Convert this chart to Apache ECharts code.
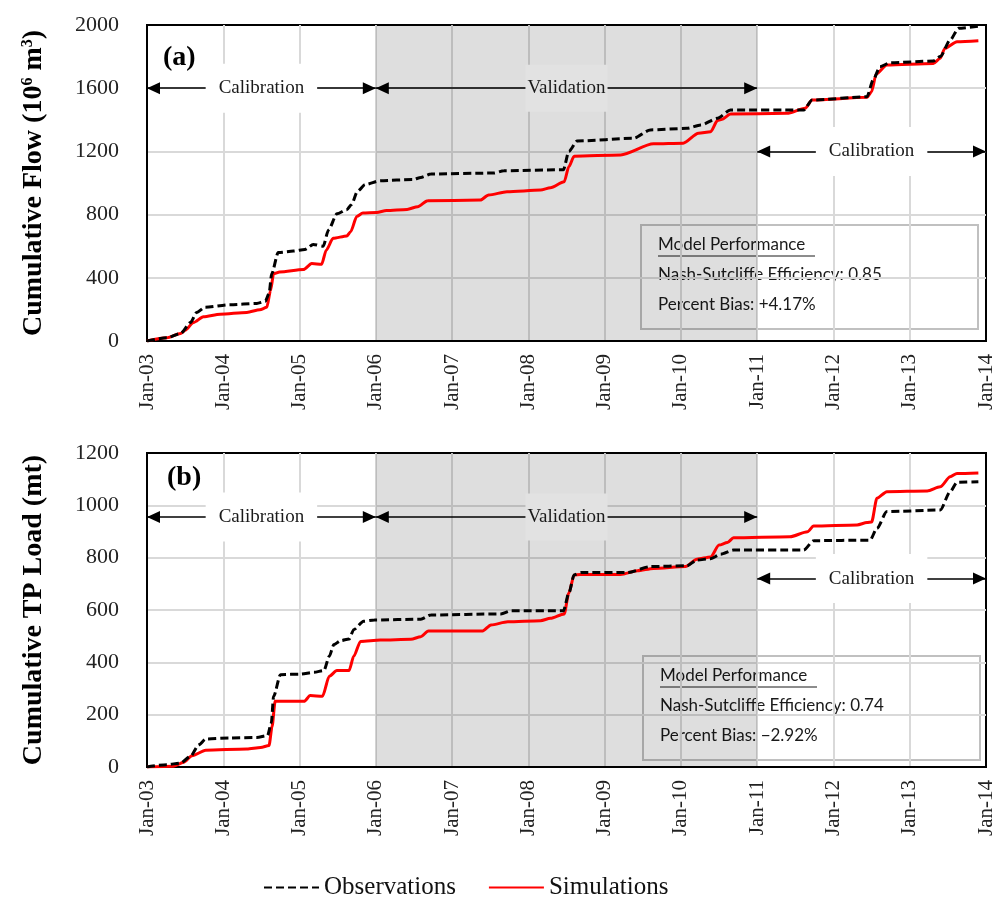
<!DOCTYPE html>
<html>
<head>
<meta charset="utf-8">
<script src="https://cdn.jsdelivr.net/npm/echarts@6/dist/echarts.min.js"></script>
<style>html,body{margin:0;padding:0;background:#fff}#c{width:997px;height:900px}</style>
</head>
<body>
<div id="c"></div>
<script>
// ---- tick labels ----
const xTickLabels = ['Jan-03','Jan-04','Jan-05','Jan-06','Jan-07','Jan-08','Jan-09','Jan-10','Jan-11','Jan-12','Jan-13','Jan-14'];
const xStartYear = 2003;
const flowTicks = [0, 400, 800, 1200, 1600, 2000];
const loadTicks = [0, 200, 400, 600, 800, 1000, 1200];

// ---- periods ----
const calibration1 = [2003, 2006];
const validation = [2006, 2011];
const calibration2 = [2011, 2014];
const flowArrowY = [1600, 1600, 1200];
const loadArrowY = [955, 955, 720];

// ---- (a) cumulative flow, 10^6 m3, [decimal year, value] ----
const flowObs = [[2003.00,0],[2003.26,20],[2003.44,47],[2003.57,117],[2003.65,180],[2003.76,213],[2004.09,230],[2004.44,238],[2004.55,251],[2004.60,300],[2004.635,426],[2004.72,560],[2004.92,569],[2005.07,579],[2005.18,611],[2005.31,600],[2005.38,703],[2005.49,805],[2005.62,831],[2005.68,863],[2005.76,948],[2005.86,990],[2006.06,1015],[2006.49,1022],[2006.59,1035],[2006.72,1057],[2007.55,1063],[2007.68,1078],[2008.46,1084],[2008.53,1200],[2008.64,1266],[2009.38,1283],[2009.60,1336],[2010.08,1346],[2010.26,1367],[2010.48,1410],[2010.65,1462],[2011.61,1462],[2011.72,1525],[2012.44,1546],[2012.52,1652],[2012.61,1736],[2012.74,1761],[2013.31,1772],[2013.40,1800],[2013.53,1905],[2013.64,1979],[2013.90,1993]];
const flowSim = [[2003.00,0],[2003.26,20],[2003.44,47],[2003.50,68],[2003.61,117],[2003.74,153],[2003.96,170],[2004.31,181],[2004.48,198],[2004.57,213],[2004.62,320],[2004.66,426],[2004.74,437],[2005.05,452],[2005.16,490],[2005.29,486],[2005.35,575],[2005.44,650],[2005.62,665],[2005.67,692],[2005.75,788],[2005.83,810],[2006.01,814],[2006.14,826],[2006.41,833],[2006.55,850],[2006.68,888],[2007.37,892],[2007.48,924],[2007.72,945],[2008.16,955],[2008.29,970],[2008.47,1008],[2008.53,1103],[2008.60,1170],[2009.21,1178],[2009.64,1248],[2010.03,1252],[2010.23,1315],[2010.39,1325],[2010.48,1395],[2010.54,1404],[2010.65,1437],[2011.39,1441],[2011.63,1473],[2011.72,1525],[2012.44,1542],[2012.50,1578],[2012.56,1690],[2012.70,1747],[2013.31,1757],[2013.40,1789],[2013.46,1852],[2013.62,1894],[2013.90,1900]];

// ---- (b) cumulative TP load, mt ----
const loadObs = [[2003.00,0],[2003.26,9],[2003.44,15],[2003.57,41],[2003.68,85],[2003.77,107],[2004.09,111],[2004.44,113],[2004.58,120],[2004.63,168],[2004.66,270],[2004.75,353],[2005.01,355],[2005.19,362],[2005.32,369],[2005.39,423],[2005.45,468],[2005.54,483],[2005.65,489],[2005.71,525],[2005.84,557],[2005.98,562],[2006.59,565],[2006.72,581],[2007.64,585],[2007.77,597],[2008.46,597],[2008.53,664],[2008.60,734],[2008.69,743],[2009.30,743],[2009.60,766],[2010.08,769],[2010.21,791],[2010.39,796],[2010.52,813],[2010.69,829],[2011.61,829],[2011.74,865],[2012.48,867],[2012.57,912],[2012.70,976],[2013.40,982],[2013.53,1052],[2013.62,1088],[2013.90,1090]];
const loadSim = [[2003.00,0],[2003.35,3],[2003.48,18],[2003.59,43],[2003.77,64],[2004.31,69],[2004.49,75],[2004.60,82],[2004.64,155],[2004.68,251],[2005.06,251],[2005.14,273],[2005.30,270],[2005.39,347],[2005.49,369],[2005.65,369],[2005.71,423],[2005.80,480],[2006.06,485],[2006.46,488],[2006.59,498],[2006.69,520],[2007.40,520],[2007.51,543],[2007.73,555],[2008.16,559],[2008.29,568],[2008.47,585],[2008.53,664],[2008.60,734],[2008.68,736],[2009.21,736],[2009.43,750],[2009.64,759],[2010.06,766],[2010.21,794],[2010.39,803],[2010.50,848],[2010.61,858],[2010.69,876],[2011.43,880],[2011.66,899],[2011.74,921],[2012.31,925],[2012.44,934],[2012.50,936],[2012.57,1027],[2012.70,1052],[2013.23,1055],[2013.40,1071],[2013.53,1109],[2013.62,1122],[2013.90,1124]];

const perfA = ['Model Performance', 'Nash-Sutcliffe Efficiency: 0.85', 'Percent Bias: +4.17%'];
const perfB = ['Model Performance', 'Nash-Sutcliffe Efficiency: 0.74', 'Percent Bias: \u22122.92%'];

const SERIF = '"Liberation Serif", "Times New Roman", serif';
const SANS = 'Lato, "Open Sans", sans-serif';
const GRID_C = '#d9d9d9';
// triangle whose tip sits at the symbol centre (lower half filled, upper half empty)
const ARROW_HEAD = 'path://M6,13 L12,26 L0,26 Z M6,0 L6,0.05';

function xAxis(gi) {
  return {
    type: 'value', gridIndex: gi, min: xStartYear, max: xStartYear + xTickLabels.length - 1, interval: 1,
    axisLine: { show: true, onZero: false, lineStyle: { color: '#000', width: 2 } },
    axisTick: { show: false },
    axisLabel: { rotate: 90, margin: 13, fontFamily: SERIF, fontSize: 21, color: '#222',
      formatter: v => xTickLabels[Math.round(v - xStartYear)] },
    splitLine: { show: true, showMinLine: false, showMaxLine: false, lineStyle: { color: GRID_C, width: 2 } }
  };
}
function yAxis(gi, ticks, name) {
  return {
    type: 'value', gridIndex: gi, min: ticks[0], max: ticks[ticks.length - 1], interval: ticks[1] - ticks[0],
    name: name, nameLocation: 'middle', nameGap: 99,
    nameTextStyle: { fontFamily: SERIF, fontSize: 28, fontWeight: 'bold', color: '#000',
      rich: { sup: { fontFamily: SERIF, fontSize: 16, fontWeight: 'bold', verticalAlign: 'top', padding: [0, 0, 11, 0] } } },
    axisLine: { show: true, lineStyle: { color: '#000', width: 2 } },
    axisTick: { show: false },
    axisLabel: { margin: 28, fontFamily: SERIF, fontSize: 22, color: '#222', formatter: v => String(v) },
    splitLine: { show: true, showMinLine: false, showMaxLine: false, lineStyle: { color: GRID_C, width: 2 } }
  };
}
function arrowSeries(gi, ys, name) {
  const periods = [calibration1, validation, calibration2];
  const texts = ['Calibration', 'Validation', 'Calibration'];
  return {
    name: name, type: 'scatter', xAxisIndex: gi, yAxisIndex: gi, z: 5, silent: true,
    symbolSize: 0, itemStyle: { opacity: 1 },
    data: periods.map((p, i) => ({
      value: [(p[0] + p[1]) / 2, ys[i]],
      label: {
        show: true, position: 'inside', formatter: texts[i], fontFamily: SERIF, fontSize: 19, color: '#1a1a1a',
        backgroundColor: i === 1 ? '#e2e2e2' : '#fff', padding: i === 1 ? [14, 2] : [15, 13]
      }
    })),
    markLine: {
      silent: true, symbol: [ARROW_HEAD, ARROW_HEAD], symbolSize: [12, 26],
      label: { show: false }, emphasis: { disabled: true },
      lineStyle: { color: '#000', width: 1.5, type: 'solid' },
      data: periods.map((p, i) => [{ coord: [p[0], ys[i]] }, { coord: [p[1], ys[i]] }])
    }
  };
}
function lineSeries(gi, name, data, isObs, withArea) {
  const s = {
    name: name, type: 'line', xAxisIndex: gi, yAxisIndex: gi, data: data,
    showSymbol: false, symbol: 'none', smooth: 0.25, smoothMonotone: 'x', z: isObs ? 4 : 3,
    lineStyle: isObs ? { color: '#000', width: 3, type: [8, 4] } : { color: '#ff0000', width: 3 },
    itemStyle: { color: isObs ? '#000' : '#ff0000', opacity: 0 }
  };
  if (withArea) {
    s.markArea = { silent: true, itemStyle: { color: 'rgba(0,0,0,0.13)', opacity: 1 },
      data: [[{ xAxis: validation[0] }, { xAxis: validation[1] }]] };
  }
  return s;
}
function perfBox(left, top, lines) {
  return {
    type: 'group', left: left, top: top, z: 100,
    children: [
      { type: 'rect', shape: { x: 0, y: 0, width: 337, height: 104 }, style: { fill: '#fff', stroke: '#c0c0c0', lineWidth: 2 } },
      { type: 'text', x: 17, y: 11, style: { text: lines[0], font: '17px ' + SANS, fill: '#1a1a1a' } },
      { type: 'line', shape: { x1: 17, y1: 31, x2: 174, y2: 31 }, style: { stroke: '#1a1a1a', lineWidth: 1 } },
      { type: 'text', x: 17, y: 41, style: { text: lines[1], font: '17px ' + SANS, fill: '#1a1a1a' } },
      { type: 'text', x: 17, y: 71, style: { text: lines[2], font: '17px ' + SANS, fill: '#1a1a1a' } }
    ]
  };
}

const chart = echarts.init(document.getElementById('c'), null, { renderer: 'canvas' });
chart.setOption({
  animation: false,
  backgroundColor: '#fff',
  grid: [
    { left: 147, top: 25, width: 839, height: 316, show: true, borderColor: '#000', borderWidth: 2, backgroundColor: 'transparent' },
    { left: 147, top: 453, width: 839, height: 314, show: true, borderColor: '#000', borderWidth: 2, backgroundColor: 'transparent' }
  ],
  xAxis: [xAxis(0), xAxis(1)],
  yAxis: [yAxis(0, flowTicks, 'Cumulative Flow (10{sup|6} m{sup|3})'), yAxis(1, loadTicks, 'Cumulative TP Load (mt)')],
  legend: {
    data: ['Observations', 'Simulations'], left: 258, top: 870, itemWidth: 55, itemHeight: 14, itemGap: 32,
    itemStyle: { opacity: 0 },
    textStyle: { fontFamily: SERIF, fontSize: 25, color: '#111' }
  },
  series: [
    lineSeries(0, 'Simulations', flowSim, false, true),
    lineSeries(0, 'Observations', flowObs, true, false),
    lineSeries(1, 'Simulations', loadSim, false, true),
    lineSeries(1, 'Observations', loadObs, true, false),
    arrowSeries(0, flowArrowY, 'periodsA'),
    arrowSeries(1, loadArrowY, 'periodsB')
  ],
  graphic: [
    { type: 'text', left: 163, top: 44, z: 100, style: { text: '(a)', font: 'bold 28px ' + SERIF, fill: '#000' } },
    { type: 'text', left: 167, top: 464, z: 100, style: { text: '(b)', font: 'bold 28px ' + SERIF, fill: '#000' } },
    perfBox(640, 224, perfA),
    perfBox(642, 655, perfB)
  ]
});
</script>
</body>
</html>
